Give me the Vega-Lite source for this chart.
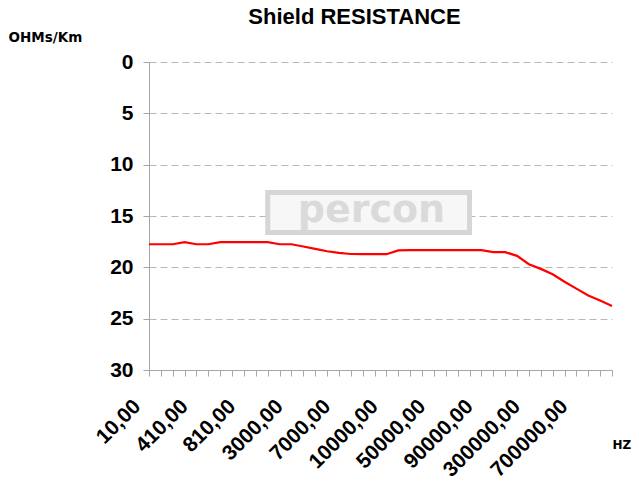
{
  "$schema": "https://vega.github.io/schema/vega-lite/v6.json",
  "autosize": {"type": "none"},
  "padding": {"left": 149, "top": 62, "right": 27, "bottom": 132},
  "width": 463,
  "height": 308,
  "background": "white",
  "title": {
    "text": "Shield RESISTANCE",
    "font": "Liberation Sans",
    "fontSize": 22,
    "fontWeight": "bold",
    "color": "black",
    "anchor": "middle",
    "dx": -26,
    "offset": 1
  },
  "config": {
    "view": {"stroke": null},
    "font": "Liberation Sans"
  },
  "data": {
    "values": [
      {"hz": "10,00", "ohm": 17.75},
      {"hz": "110,00", "ohm": 17.75},
      {"hz": "210,00", "ohm": 17.75},
      {"hz": "310,00", "ohm": 17.55},
      {"hz": "410,00", "ohm": 17.75},
      {"hz": "510,00", "ohm": 17.75},
      {"hz": "610,00", "ohm": 17.55},
      {"hz": "710,00", "ohm": 17.55},
      {"hz": "810,00", "ohm": 17.55},
      {"hz": "910,00", "ohm": 17.55},
      {"hz": "1000,00", "ohm": 17.55},
      {"hz": "2000,00", "ohm": 17.75},
      {"hz": "3000,00", "ohm": 17.75},
      {"hz": "4000,00", "ohm": 17.97},
      {"hz": "5000,00", "ohm": 18.2},
      {"hz": "6000,00", "ohm": 18.43},
      {"hz": "7000,00", "ohm": 18.6},
      {"hz": "8000,00", "ohm": 18.7},
      {"hz": "9000,00", "ohm": 18.72},
      {"hz": "9500,00", "ohm": 18.72},
      {"hz": "10000,00", "ohm": 18.72},
      {"hz": "20000,00", "ohm": 18.35},
      {"hz": "30000,00", "ohm": 18.33},
      {"hz": "40000,00", "ohm": 18.33},
      {"hz": "50000,00", "ohm": 18.33},
      {"hz": "60000,00", "ohm": 18.33},
      {"hz": "70000,00", "ohm": 18.33},
      {"hz": "80000,00", "ohm": 18.33},
      {"hz": "90000,00", "ohm": 18.33},
      {"hz": "100000,00", "ohm": 18.52},
      {"hz": "200000,00", "ohm": 18.52},
      {"hz": "250000,00", "ohm": 18.88},
      {"hz": "300000,00", "ohm": 19.7},
      {"hz": "400000,00", "ohm": 20.15},
      {"hz": "500000,00", "ohm": 20.67},
      {"hz": "600000,00", "ohm": 21.4},
      {"hz": "700000,00", "ohm": 22.07},
      {"hz": "800000,00", "ohm": 22.75},
      {"hz": "900000,00", "ohm": 23.24},
      {"hz": "1000000,00", "ohm": 23.76}
    ]
  },
  "layer": [
    {
      "mark": {"type": "line", "color": "#ff0000", "strokeWidth": 2.2},
      "encoding": {
        "x": {
          "field": "hz",
          "type": "ordinal",
          "sort": null,
          "scale": {"type": "point", "padding": 0},
          "axis": {
            "title": "HZ",
            "titleX": 463,
            "titleY": 78,
            "titleAlign": "left",
            "titleBaseline": "alphabetic",
            "titleFont": "DejaVu Sans",
            "titleFontSize": 12,
            "titleFontWeight": "bold",
            "titleColor": "black",
            "titleAnchor": null,
            "domainColor": "#a6a6a6",
            "tickColor": "#a6a6a6",
            "tickSize": 6,
            "labelAngle": -45,
            "labelAlign": "right",
            "labelBaseline": "middle",
            "labelFontSize": 21,
            "labelFontWeight": "bold",
            "labelColor": "black",
            "labelPadding": 27,
            "labelOffset": -12,
            "labelOverlap": false,
            "labelFlush": false,
            "labelBound": false,
            "labelExpr": "round(datum.index*39) % 4 === 0 ? datum.label : ''",
            "grid": false
          }
        },
        "y": {
          "field": "ohm",
          "type": "quantitative",
          "scale": {"domain": [0, 30], "reverse": true, "nice": false},
          "axis": {
            "title": "OHMs/Km",
            "titleAngle": 0,
            "titleX": -141,
            "titleY": -21,
            "titleAlign": "left",
            "titleBaseline": "alphabetic",
            "titleFont": "DejaVu Sans",
            "titleFontSize": 13.5,
            "titleFontWeight": "bold",
            "titleColor": "black",
            "titleAnchor": null,
            "values": [0, 5, 10, 15, 20, 25, 30],
            "grid": true,
            "gridDash": [7, 4],
            "gridColor": "#b8b8b8",
            "domainColor": "#a6a6a6",
            "tickColor": "#a6a6a6",
            "tickSize": 6,
            "labelFontSize": 21,
            "labelFontWeight": "bold",
            "labelColor": "black",
            "labelPadding": 10
          }
        }
      }
    },
    {
      "data": {"values": [{"logo": "percon"}]},
      "mark": {"type": "rect", "fill": "#f7f7f7", "stroke": "#d6d6d6", "strokeWidth": 5},
      "encoding": {
        "x": {"datum": "1000,00"},
        "x2": {"datum": "80000,00"},
        "y": {"datum": 12.7},
        "y2": {"datum": 16.6}
      }
    },
    {
      "data": {"values": [{"logo": "percon"}]},
      "mark": {"type": "text", "font": "DejaVu Sans", "fontSize": 38, "fontWeight": "bold", "color": "#dadada", "dx": -15, "baseline": "middle", "align": "center"},
      "encoding": {
        "x": {"datum": "10000,00"},
        "y": {"datum": 14.5},
        "text": {"field": "logo"}
      }
    }
  ]
}
